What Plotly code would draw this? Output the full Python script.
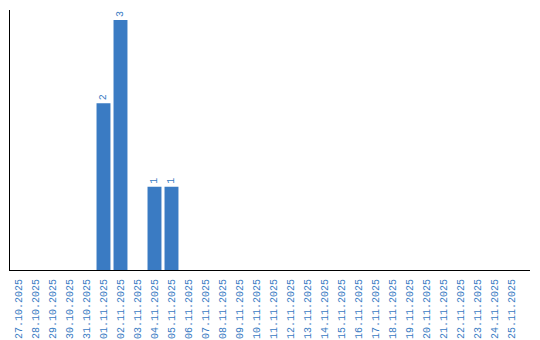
import plotly.graph_objects as go

dates = ["27.10.2025", "28.10.2025", "29.10.2025", "30.10.2025", "31.10.2025",
         "01.11.2025", "02.11.2025", "03.11.2025", "04.11.2025", "05.11.2025",
         "06.11.2025", "07.11.2025", "08.11.2025", "09.11.2025", "10.11.2025",
         "11.11.2025", "12.11.2025", "13.11.2025", "14.11.2025", "15.11.2025",
         "16.11.2025", "17.11.2025", "18.11.2025", "19.11.2025", "20.11.2025",
         "21.11.2025", "22.11.2025", "23.11.2025", "24.11.2025", "25.11.2025"]
counts = [0, 0, 0, 0, 0, 2, 3, 0, 1, 1, 0, 0, 0, 0, 0,
          0, 0, 0, 0, 0, 0, 0, 0, 0, 0, 0, 0, 0, 0, 0]

blue = "#3a7bc3"
labels = [str(v) if v else "" for v in counts]

fig = go.Figure(go.Bar(
    x=dates, y=counts, text=labels, textposition="outside", textangle=-90,
    marker=dict(color=blue, line=dict(width=0)),
    textfont=dict(family="Liberation Mono", size=10, color=blue),
    cliponaxis=False,
))
fig.update_layout(
    width=540, height=340, margin=dict(l=10, r=10, t=10, b=70),
    paper_bgcolor="white", plot_bgcolor="white", showlegend=False,
    bargap=0.18,
    xaxis=dict(type="category", range=[-0.5, 30.09], showline=True, linecolor="black",
               linewidth=1, showgrid=False, tickangle=-90, ticks="",
               ticklabelstandoff=4, automargin=False,
               tickfont=dict(family="Liberation Mono", size=10, color=blue)),
    yaxis=dict(range=[0, 3.12], showline=True, linecolor="black", linewidth=1,
               showgrid=False, showticklabels=False, ticks="", zeroline=False,
               automargin=False),
)
fig.write_html("out.html")
